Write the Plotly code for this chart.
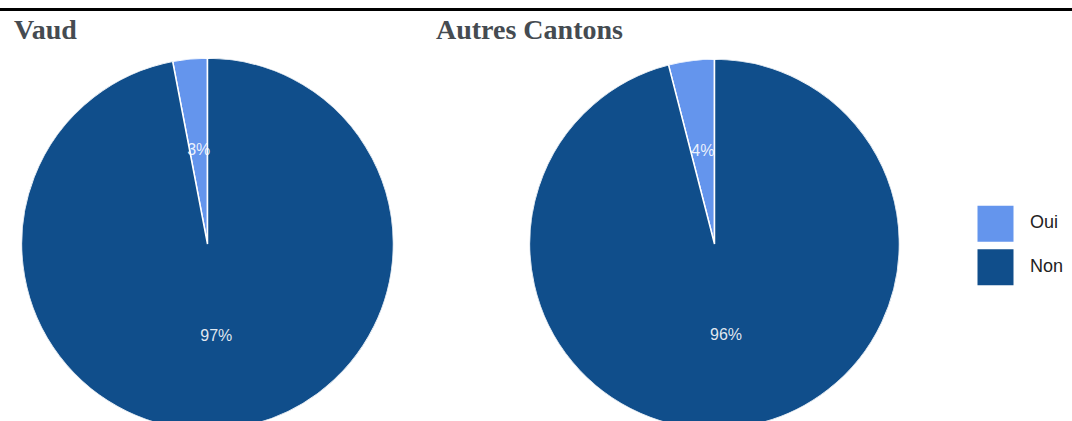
import plotly.graph_objects as go

labels = ["Oui", "Non"]
vaud_values = [3, 97]
autres_values = [4, 96]
panel_titles = ["Vaud", "Autres Cantons"]
colors = ["#6495ED", "#104E8B"]

W, H = 1072, 440

def px_x(v):
    return v / W

def px_y(v):
    return 1 - v / H

fig = go.Figure()

pie_specs = [
    (vaud_values, (21.5, 393.5), (58, 430)),
    (autres_values, (529.5, 899.5), (58, 430)),
]
layout_polars = {}
for i, (vals, (x0, x1), (y0, y1)) in enumerate(pie_specs):
    dom = dict(x=[px_x(x0), px_x(x1)], y=[px_y(y1), px_y(y0)])
    pname = "polar" if i == 0 else f"polar{i + 1}"
    total = sum(vals)
    thetas, widths, texts = [], [], []
    cum = 0
    for v in vals:
        thetas.append((cum + v / 2) / total * 360)
        widths.append(v / total * 360)
        texts.append(f"{round(100 * v / total)}%")
        cum += v
    # pie slices drawn as full-radius polar bars
    fig.add_trace(go.Barpolar(
        r=[1] * len(vals),
        theta=thetas,
        width=widths,
        base=0,
        marker=dict(color=colors, line=dict(color="white", width=1.5)),
        customdata=labels,
        hovertemplate="%{customdata}: %{text}<extra></extra>",
        text=texts,
        subplot=pname,
        showlegend=False,
    ))
    # percentage labels at half radius on each slice bisector
    fig.add_trace(go.Scatterpolar(
        r=[0.5] * len(vals),
        theta=thetas,
        mode="text",
        text=texts,
        textposition="middle center",
        textfont=dict(color="rgba(255,255,255,0.88)", size=16,
                      family="Liberation Sans, Arial, sans-serif"),
        subplot=pname,
        showlegend=False,
        hoverinfo="skip",
    ))
    layout_polars[pname] = dict(
        domain=dom,
        bgcolor="rgba(0,0,0,0)",
        hole=0,
        bargap=0,
        radialaxis=dict(range=[0, 1], visible=False, showgrid=False),
        angularaxis=dict(rotation=90, direction="counterclockwise", visible=False, showgrid=False),
    )

# legend built from scatter traces with large square markers
fig.add_trace(go.Scatter(
    x=[0, 0],
    y=labels,
    mode="markers",
    marker=dict(symbol="square", size=36, color=colors, line=dict(width=0)),
    xaxis="x2",
    yaxis="y2",
    showlegend=False,
    hoverinfo="skip",
    cliponaxis=False,
))
fig.add_trace(go.Scatter(
    x=[1.35, 1.35],
    y=labels,
    mode="text",
    text=labels,
    textposition="middle right",
    textfont=dict(size=18, color="#222222", family="Liberation Sans, Arial, sans-serif"),
    xaxis="x2",
    yaxis="y2",
    showlegend=False,
    hoverinfo="skip",
    cliponaxis=False,
))

title_font = dict(family="Liberation Serif, Times New Roman, serif", size=28, color="#454b51")

fig.update_layout(
    width=W,
    height=H,
    margin=dict(l=0, r=0, t=0, b=0),
    paper_bgcolor="white",
    plot_bgcolor="white",
    xaxis2=dict(domain=[px_x(970), 1], range=[-1, 3], visible=False, fixedrange=True),
    yaxis2=dict(domain=[px_y(289), px_y(202)], range=[1.5, -0.5], type="category",
                visible=False, fixedrange=True, anchor="x2"),
    shapes=[dict(type="line", xref="paper", yref="paper", x0=0, x1=1,
                 y0=px_y(9.5), y1=px_y(9.5), line=dict(color="black", width=3))],
    annotations=[
        dict(text=f"<b>{panel_titles[0]}</b>", xref="paper", yref="paper",
             x=px_x(12), y=px_y(29), xanchor="left", yanchor="middle", showarrow=False,
             font=title_font),
        dict(text=f"<b>{panel_titles[1]}</b>", xref="paper", yref="paper",
             x=px_x(434), y=px_y(29), xanchor="left", yanchor="middle", showarrow=False,
             font=title_font),
    ],
    **layout_polars,
)

fig.write_html("out.html", config={"displayModeBar": False},
               post_script="document.body.style.margin='0';")
